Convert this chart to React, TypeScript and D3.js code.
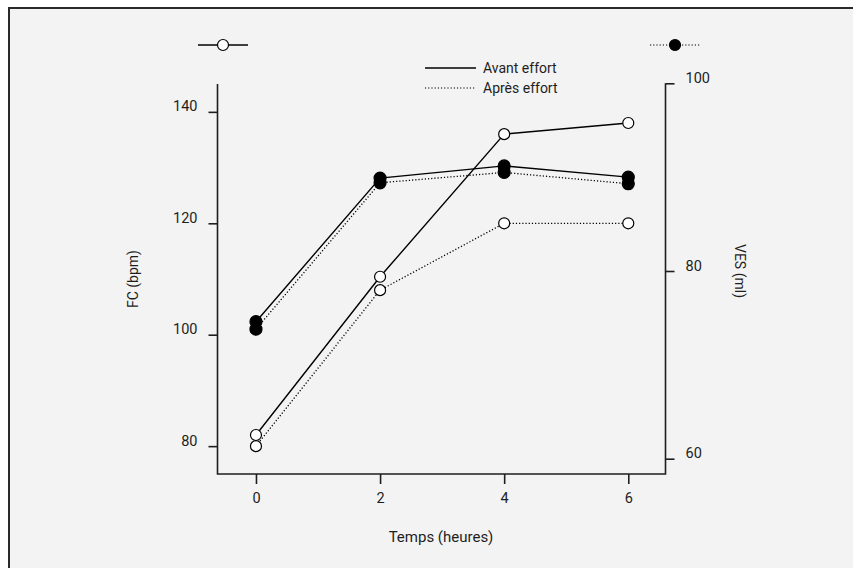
import { useRef, useEffect } from 'react';
import * as d3 from 'd3';

// time points (hours)
const hours = [0, 2, 4, 6];
const xTicks = [0, 2, 4, 6];
const fcTicks = [80, 100, 120, 140];
const vesTicks = [60, 80, 100];

// FC (bpm) – open circles, left axis
const fcAvant = [82, 110.4, 136, 138];
const fcApres = [80, 108, 120, 120];

// VES (ml) – filled circles, right axis
const vesAvant = [74.6, 89.9, 91.2, 90];
const vesApres = [73.8, 89.4, 90.5, 89.3];

const legendLabels = ['Avant effort', 'Après effort'];

const FONT = 'Roboto, "Open Sans", sans-serif';
const INK = '#1e1e1e';

const App = () => {
  const ref = useRef<SVGSVGElement | null>(null);

  useEffect(() => {
    const svg = d3.select(ref.current);
    svg.selectAll('*').remove();

    const width = 853;
    const height = 568;

    // panel with only top/left borders visible
    svg.append('rect')
      .attr('x', 0).attr('y', 0).attr('width', width).attr('height', height)
      .attr('fill', '#ffffff');
    svg.append('rect')
      .attr('x', 9).attr('y', 8).attr('width', 900).attr('height', 600)
      .attr('fill', '#f3f3f3')
      .attr('stroke', '#2a2a2a')
      .attr('stroke-width', 2);

    const x = d3.scaleLinear().domain([-0.62, 6.6]).range([217.5, 665.5]);
    const yL = d3.scaleLinear().domain([75, 145]).range([474, 84]);
    const yR = d3.scaleLinear().domain([60, 100]).range([458.7, 83.3]);

    const g = svg.append('g').attr('font-family', FONT);

    // axis frame lines
    const axisStroke = 1.6;
    g.append('path')
      .attr('d', `M${x(-0.62)},${yL(145)} V${yL(75)} H${x(6.6)} V${yR(100)}`)
      .attr('fill', 'none')
      .attr('stroke', INK)
      .attr('stroke-width', axisStroke);

    const styleAxis = (sel: any) => {
      sel.attr('font-size', 14.5).attr('font-family', FONT);
      sel.select('.domain').remove();
      sel.selectAll('line').attr('stroke', INK).attr('stroke-width', axisStroke);
      sel.selectAll('text')
        .attr('fill', INK)
        .attr('font-size', 14.5)
        .attr('font-family', FONT);
    };

    // left axis
    g.append('g')
      .attr('transform', `translate(${x(-0.62)},0)`)
      .call(d3.axisLeft(yL).tickValues(fcTicks).tickSize(9).tickPadding(11))
      .call(styleAxis)
      .selectAll('text').attr('dy', '-0.06em');

    // right axis
    g.append('g')
      .attr('transform', `translate(${x(6.6)},0)`)
      .call(d3.axisRight(yR).tickValues(vesTicks).tickSize(9).tickPadding(11))
      .call(styleAxis)
      .selectAll('text').attr('dy', '-0.06em');

    // bottom axis
    g.append('g')
      .attr('transform', `translate(0,${yL(75)})`)
      .call(d3.axisBottom(x).tickValues(xTicks).tickSize(10).tickPadding(9).tickFormat(d3.format('d')))
      .call(styleAxis);

    // axis titles
    g.append('text')
      .attr('x', 441).attr('y', 542)
      .attr('text-anchor', 'middle')
      .attr('font-size', 15).attr('fill', INK)
      .text('Temps (heures)');

    g.append('text')
      .attr('transform', `translate(138,${yL(110)}) rotate(-90)`)
      .attr('text-anchor', 'middle')
      .attr('font-size', 14).attr('fill', INK)
      .text('FC (bpm)');

    g.append('text')
      .attr('transform', `translate(735,${yR(80)}) rotate(90)`)
      .attr('text-anchor', 'middle')
      .attr('font-size', 14).attr('fill', INK)
      .text('VES (ml)');

    const dotted = '1.2,2';

    const series = [
      { values: fcApres, y: yL, dash: dotted, filled: false, r: 5.5 },
      { values: fcAvant, y: yL, dash: null, filled: false, r: 5.5 },
      { values: vesApres, y: yR, dash: dotted, filled: true, r: 6 },
      { values: vesAvant, y: yR, dash: null, filled: true, r: 6 },
    ];

    series.forEach(s => {
      const line = d3.line<number>()
        .x((_, i) => x(hours[i]))
        .y(d => s.y(d));
      g.append('path')
        .attr('d', line(s.values))
        .attr('fill', 'none')
        .attr('stroke', '#000')
        .attr('stroke-width', s.dash ? 1.3 : 1.4)
        .attr('stroke-dasharray', s.dash);
    });

    series.forEach(s => {
      g.append('g')
        .selectAll('circle')
        .data(s.values)
        .join('circle')
        .attr('cx', (_, i) => x(hours[i]))
        .attr('cy', d => s.y(d))
        .attr('r', s.r)
        .attr('fill', s.filled ? '#000' : '#fff')
        .attr('stroke', '#000')
        .attr('stroke-width', 1.2);
    });

    // series markers legend (top)
    const markerLeg = [
      { cx: 223, dash: null, filled: false, r: 5.5 },
      { cx: 675, dash: dotted, filled: true, r: 5.5 },
    ];
    markerLeg.forEach(m => {
      g.append('line')
        .attr('x1', m.cx - 25).attr('x2', m.cx + 25)
        .attr('y1', 45).attr('y2', 45)
        .attr('stroke', '#000')
        .attr('stroke-width', m.dash ? 1.2 : 1.4)
        .attr('stroke-dasharray', m.dash);
      g.append('circle')
        .attr('cx', m.cx).attr('cy', 45).attr('r', m.r)
        .attr('fill', m.filled ? '#000' : '#fff')
        .attr('stroke', '#000').attr('stroke-width', 1.2);
    });

    // line style legend
    legendLabels.forEach((lab, i) => {
      const ly = 68 + i * 20;
      g.append('line')
        .attr('x1', 425).attr('x2', 476)
        .attr('y1', ly).attr('y2', ly)
        .attr('stroke', '#000')
        .attr('stroke-width', i === 0 ? 1.4 : 1.2)
        .attr('stroke-dasharray', i === 0 ? null : dotted);
      g.append('text')
        .attr('x', 483).attr('y', ly)
        .attr('dy', '0.35em')
        .attr('font-size', 14).attr('fill', INK)
        .text(lab);
    });
  }, []);

  return (
    <svg
      ref={ref}
      width={853}
      height={568}
      style={{ position: 'absolute', left: 0, top: 0, display: 'block' }}
    />
  );
};

export default App;
